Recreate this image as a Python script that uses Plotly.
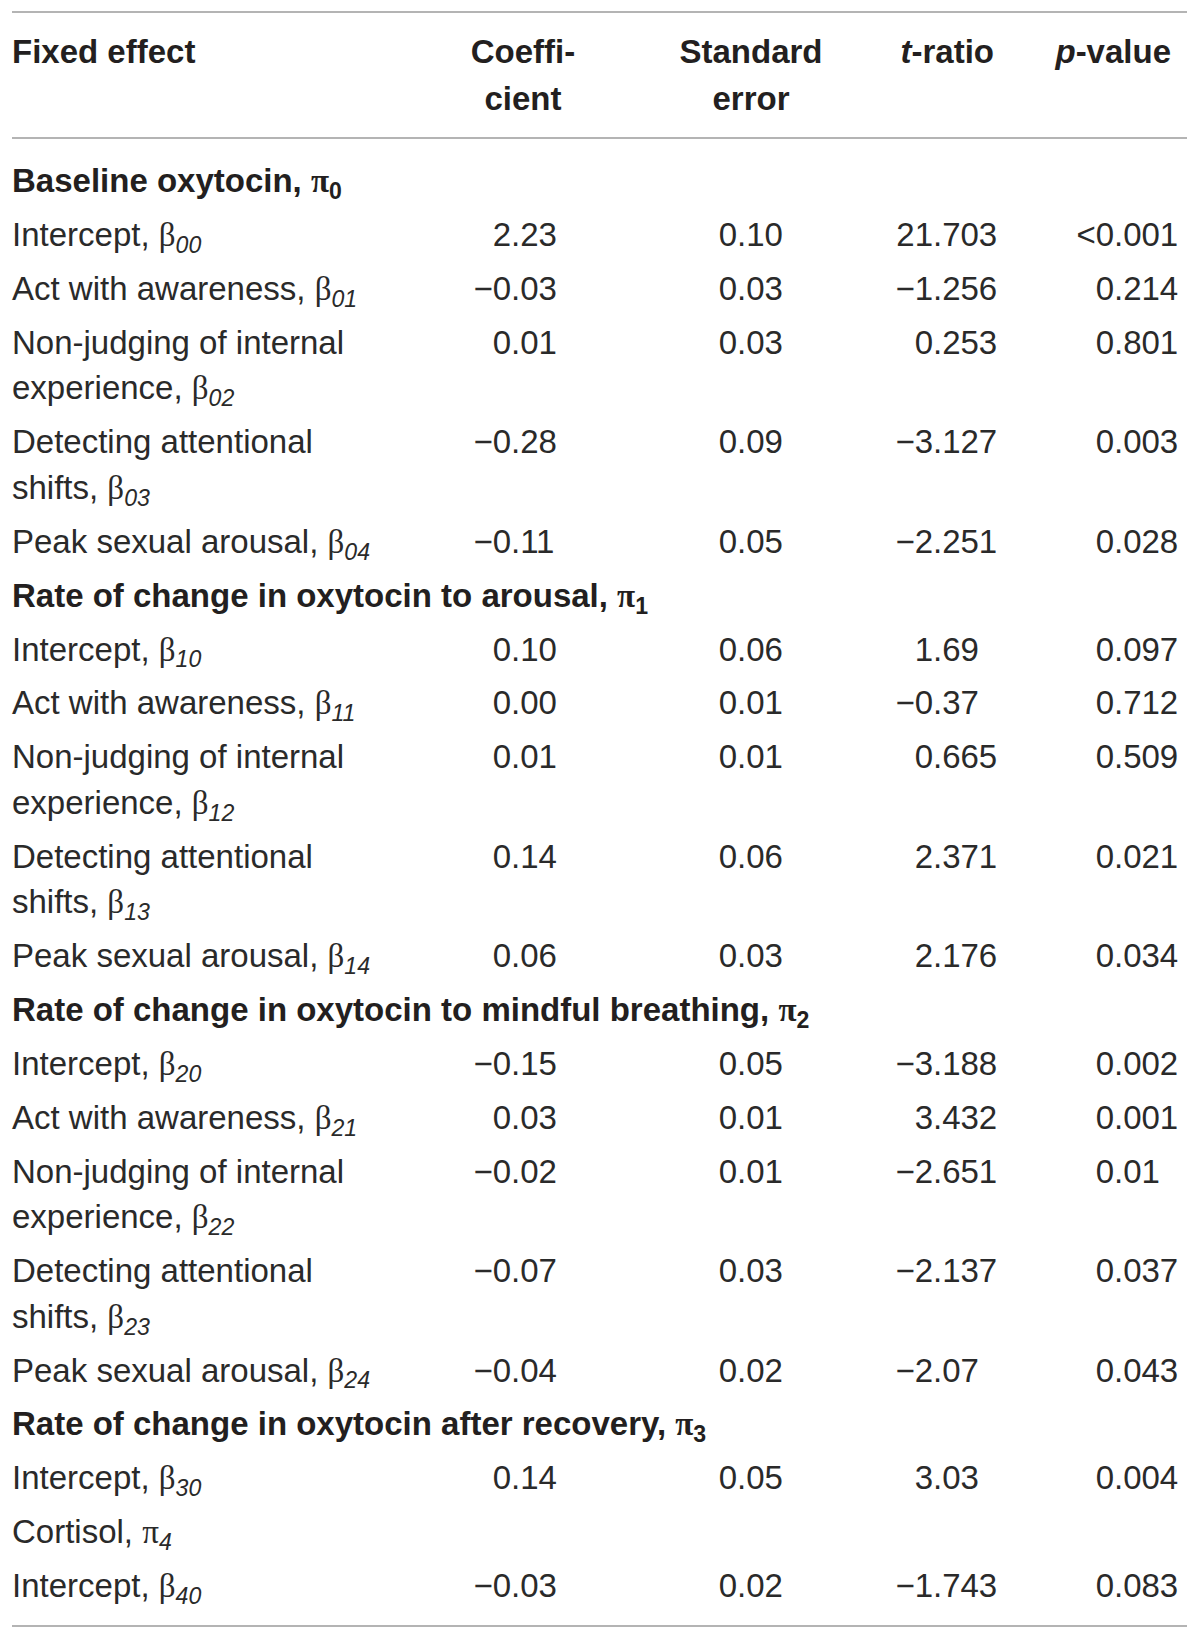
import plotly.graph_objects as go

# ---------------- data ----------------
header_fixed = ["Fixed effect"]
header_coef = ["Coeffi-", "cient"]
header_se = ["Standard", "error"]
header_t = ["<i>t</i>-ratio"]
header_p = ["<i>p</i>-value"]

# kind: "group" = bold section heading, "section" = plain heading, "effect" = data row
row_kinds = ["group", "effect", "effect", "effect", "effect", "effect",
             "group", "effect", "effect", "effect", "effect", "effect",
             "group", "effect", "effect", "effect", "effect", "effect",
             "group", "effect", "section", "effect"]
row_labels = [
    "Baseline oxytocin, ", "Intercept, ", "Act with awareness, ",
    "Non-judging of internal<br>experience, ", "Detecting attentional<br>shifts, ",
    "Peak sexual arousal, ",
    "Rate of change in oxytocin to arousal, ", "Intercept, ", "Act with awareness, ",
    "Non-judging of internal<br>experience, ", "Detecting attentional<br>shifts, ",
    "Peak sexual arousal, ",
    "Rate of change in oxytocin to mindful breathing, ", "Intercept, ", "Act with awareness, ",
    "Non-judging of internal<br>experience, ", "Detecting attentional<br>shifts, ",
    "Peak sexual arousal, ",
    "Rate of change in oxytocin after recovery, ", "Intercept, ",
    "Cortisol, ", "Intercept, ",
]
row_symbols = ["π", "β", "β", "β", "β", "β",
               "π", "β", "β", "β", "β", "β",
               "π", "β", "β", "β", "β", "β",
               "π", "β", "π", "β"]
row_subs = ["0", "00", "01", "02", "03", "04",
            "1", "10", "11", "12", "13", "14",
            "2", "20", "21", "22", "23", "24",
            "3", "30", "4", "40"]
coefficients = ["", "2.23", "−0.03", "0.01", "−0.28", "−0.11",
                "", "0.10", "0.00", "0.01", "0.14", "0.06",
                "", "−0.15", "0.03", "−0.02", "−0.07", "−0.04",
                "", "0.14", "", "−0.03"]
std_errors = ["", "0.10", "0.03", "0.03", "0.09", "0.05",
              "", "0.06", "0.01", "0.01", "0.06", "0.03",
              "", "0.05", "0.01", "0.01", "0.03", "0.02",
              "", "0.05", "", "0.02"]
t_ratios = ["", "21.703", "−1.256", "0.253", "−3.127", "−2.251",
            "", "1.69", "−0.37", "0.665", "2.371", "2.176",
            "", "−3.188", "3.432", "−2.651", "−2.137", "−2.07",
            "", "3.03", "", "−1.743"]
p_values = ["", "&lt;0.001", "0.214", "0.801", "0.003", "0.028",
            "", "0.097", "0.712", "0.509", "0.021", "0.034",
            "", "0.002", "0.001", "0.01", "0.037", "0.043",
            "", "0.004", "", "0.083"]

# ---------------- layout constants ----------------
W, H = 1200, 1639
FONT = "Liberation Sans, Arial, sans-serif"
SERIF = "Liberation Serif"
TXT = "#231f20"
TXT_REG = "#2a2a2a"
RULE = "#9b9b9b"
FS = 33
X_LEFT, X_RIGHT = 12, 1187
LABEL_X = 12
COEF_C, SE_C = 523, 751
T_RIGHT, P_RIGHT = 994, 1171
DEC_X = {"coef": 511, "se": 737, "t": 933, "p": 1114}
RULE_Y = [12, 138, 1626]
HEAD_Y = [52, 99]
FIRST_ROW_Y = 181
ROW_STEP = 53.9
LINE_STEP = 45.5
YOFF = 3  # scatter text baseline offset compensation

fig = go.Figure()


def add_text(xs, ys, texts, pos, bold=False, color=TXT_REG):
    fig.add_trace(go.Scatter(
        x=xs, y=[y + YOFF for y in ys], text=texts, mode="text",
        textposition=pos, hoverinfo="skip", showlegend=False,
        marker=dict(size=0),
        textfont=dict(family=FONT, size=FS, color=TXT if bold else color,
                      weight="bold" if bold else "normal"),
        cliponaxis=False,
    ))


def sym(s):
    return f'<span style="font-family:{SERIF}">{s}</span>'


# headers
add_text([LABEL_X], [HEAD_Y[0]], header_fixed, "middle right", bold=True)
add_text([COEF_C] * 2, HEAD_Y, header_coef, "middle center", bold=True)
add_text([SE_C] * 2, HEAD_Y, header_se, "middle center", bold=True)
add_text([T_RIGHT], [HEAD_Y[0]], header_t, "middle left", bold=True)
add_text([P_RIGHT], [HEAD_Y[0]], header_p, "middle left", bold=True)

# body rows
lab_x, lab_y, lab_t = [], [], []
grp_x, grp_y, grp_t = [], [], []
num_cols = {"coef": coefficients, "se": std_errors, "t": t_ratios, "p": p_values}
num_parts = {k: ([], [], []) for k in num_cols}  # y, int texts, frac texts

y = FIRST_ROW_Y
for i, kind in enumerate(row_kinds):
    lines = row_labels[i].split("<br>")
    row_y = y
    for j, line in enumerate(lines):
        ly = row_y + j * LINE_STEP
        if j == len(lines) - 1:
            if kind == "group":
                line = f"{line}{sym(row_symbols[i])}<sub>{row_subs[i]}</sub>"
            else:
                line = f"{line}{sym(row_symbols[i])}<sub><i>{row_subs[i]}</i></sub>"
        if kind == "group":
            grp_x.append(LABEL_X); grp_y.append(ly); grp_t.append(line)
        else:
            lab_x.append(LABEL_X); lab_y.append(ly); lab_t.append(line)
    for key, vals in num_cols.items():
        v = vals[i]
        if v:
            ip, fp = v.split(".")
            num_parts[key][0].append(row_y)
            num_parts[key][1].append(ip)
            num_parts[key][2].append("." + fp)
    y = row_y + (len(lines) - 1) * LINE_STEP + ROW_STEP

add_text(grp_x, grp_y, grp_t, "middle right", bold=True)
add_text(lab_x, lab_y, lab_t, "middle right")
for key, (ys, ints, fracs) in num_parts.items():
    dx = DEC_X[key]
    add_text([dx] * len(ys), ys, ints, "middle left")
    add_text([dx] * len(ys), ys, fracs, "middle right")

for ry in RULE_Y:
    fig.add_shape(type="line", xref="x", yref="y", x0=X_LEFT, x1=X_RIGHT, y0=ry, y1=ry,
                  line=dict(color=RULE, width=1.6))

fig.update_layout(
    width=W, height=H, autosize=False,
    margin=dict(l=0, r=0, t=0, b=0),
    paper_bgcolor="white", plot_bgcolor="white",
    xaxis=dict(range=[0, W], visible=False, fixedrange=True),
    yaxis=dict(range=[H, 0], visible=False, fixedrange=True),
    showlegend=False,
)

fig.write_html(
    "out.html",
    config={"displayModeBar": False},
    post_script="document.body.style.margin='0';document.body.style.padding='0';",
)
